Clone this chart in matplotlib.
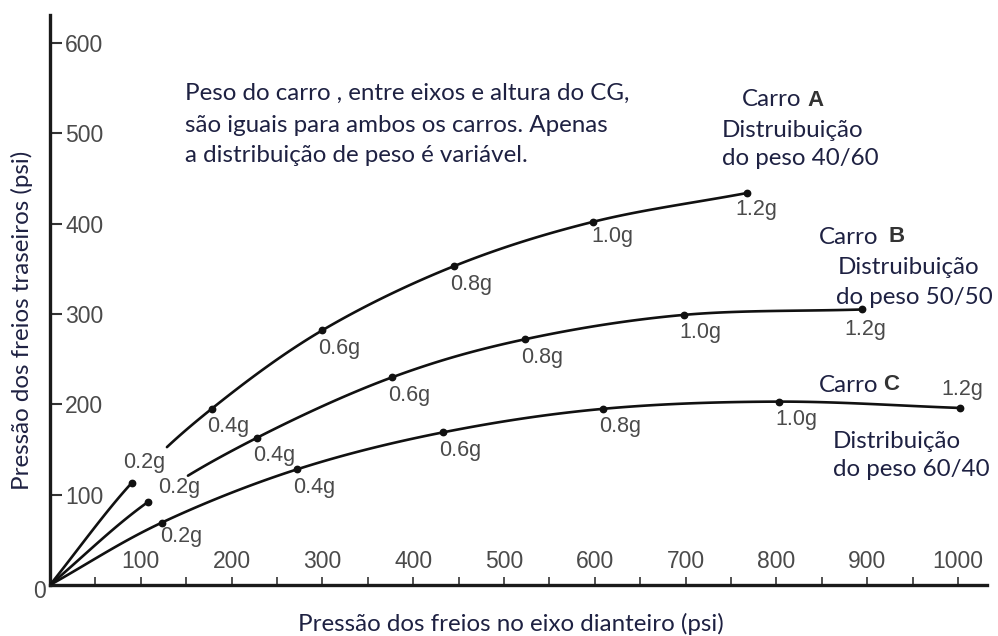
import numpy as np
import matplotlib
matplotlib.use("Agg")
import matplotlib.pyplot as plt
from matplotlib.ticker import FixedLocator

# ---- data -------------------------------------------------------------
g_labels = ["0.2g", "0.4g", "0.6g", "0.8g", "1.0g", "1.2g"]

front_a = [90, 178, 300, 445, 598, 768]
rear_a = [113, 195, 282, 353, 402, 434]

front_b = [108, 228, 377, 523, 698, 894]
rear_b = [92, 163, 230, 272, 299, 305]

front_c = [123, 272, 433, 609, 803, 1002]
rear_c = [69, 128, 169, 195, 203, 196]

x_ticks = [100, 200, 300, 400, 500, 600, 700, 800, 900, 1000]
x_minor = [50, 150, 250, 350, 450, 550, 650, 750, 850, 950]
y_ticks = [100, 200, 300, 400, 500, 600]

# ---- styling ----------------------------------------------------------
W, H = 998, 636
TXT = "#1e2142"
GREY = "#4a4a4a"
HUMANIST = ["Lato", "DejaVu Sans"]
GROTESK = ["Liberation Sans", "DejaVu Sans"]
TSIZE = 17.4
TICKSIZE = 16.5

fig = plt.figure(figsize=(W / 100, H / 100), dpi=100)
fig.patch.set_facecolor("white")

# axes box in pixel terms: origin at (50, 585), top at 15, right end at 987
ax_l, ax_b, ax_r, ax_t = 50, 585, 987, 15
ax = fig.add_axes([ax_l / W, 1 - ax_b / H, (ax_r - ax_l) / W, (ax_b - ax_t) / H])
ax.set_xlim(0, 1032)
ax.set_ylim(0, 631)

for side in ("top", "right"):
    ax.spines[side].set_visible(False)
for side in ("left", "bottom"):
    ax.spines[side].set_linewidth(2.4)
    ax.spines[side].set_color("#1a1a1a")

ax.xaxis.set_major_locator(FixedLocator(x_ticks))
ax.xaxis.set_minor_locator(FixedLocator(x_minor))
ax.set_xticklabels([str(v) for v in x_ticks])
ax.yaxis.set_major_locator(FixedLocator(y_ticks))
ax.set_yticklabels([str(v) for v in y_ticks])

ax.tick_params(axis="x", which="both", direction="in", length=5.5, width=1.2,
               color="#333333")
ax.tick_params(axis="x", which="major", pad=-25, labelsize=TICKSIZE,
               labelcolor=GREY)
ax.tick_params(axis="y", direction="in", length=8.5, width=1.5,
               color="#333333", pad=-11, labelsize=TICKSIZE, labelcolor=GREY)
for lbl in ax.get_xticklabels() + ax.get_yticklabels():
    lbl.set_fontfamily(GROTESK)
for lbl in ax.get_yticklabels():
    lbl.set_horizontalalignment("left")


def smooth_path(xs, ys, n=40):
    """Catmull-Rom curve through the given points; returns per-segment samples."""
    p = np.column_stack([xs, ys]).astype(float)
    ext = np.vstack([p[0] - (p[1] - p[0]), p, p[-1] + (p[-1] - p[-2])])
    segs = []
    t = np.linspace(0, 1, n)[:, None]
    for i in range(1, len(ext) - 2):
        p0, p1, p2, p3 = ext[i - 1], ext[i], ext[i + 1], ext[i + 2]
        pts = 0.5 * ((2 * p1) + (-p0 + p2) * t
                     + (2 * p0 - 5 * p1 + 4 * p2 - p3) * t ** 2
                     + (-p0 + 3 * p1 - 3 * p2 + p3) * t ** 3)
        segs.append((t[:, 0], pts))
    return segs


def draw_car(fx, fy, gap_end, offsets):
    xs = [0] + list(fx)
    ys = [0] + list(fy)
    segs = smooth_path(xs, ys)
    for k, (t, pts) in enumerate(segs):
        if k == 1 and gap_end > 0:
            keep = t >= gap_end
            pts = pts[keep]
        ax.plot(pts[:, 0], pts[:, 1], color="#111111", lw=1.9,
                solid_capstyle="round", zorder=3)
    ax.plot(fx, fy, "o", color="#111111", ms=4.6, zorder=4)
    for x, y, lab, (dx, dy) in zip(fx, fy, g_labels, offsets):
        ax.annotate(lab, (x, y), xytext=(dx, dy), textcoords="offset pixels",
                    ha="left", va="center", fontsize=15.5, color=GREY,
                    family=GROTESK, zorder=5)


below = (-4, -18)
draw_car(front_a, rear_a, 0.44,
         [(-9, 20), below, below, below, (-2, -15), (-12, -17)])
draw_car(front_b, rear_b, 0.37,
         [(10, 14), below, below, below, below, (-17, -20)])
draw_car(front_c, rear_c, 0.0,
         [(-2, -14), below, below, below, below, (-18, 18)])


def ftext(px, py, s, **kw):
    kw.setdefault("fontsize", TSIZE)
    kw.setdefault("color", TXT)
    kw.setdefault("family", HUMANIST)
    kw.setdefault("va", "center")
    fig.text(px / W, 1 - py / H, s, **kw)


# origin label
ftext(40, 591, "0", family=GROTESK, color=GREY, fontsize=TICKSIZE, ha="center")

# axis titles
ftext(511, 624, "Pressão dos freios no eixo dianteiro (psi)", ha="center")
ftext(22, 320, "Pressão dos freios traseiros (psi)", ha="center",
      rotation=90, rotation_mode="anchor")

# note
ftext(185, 93, "Peso do carro , entre eixos e altura do CG,", ha="left")
ftext(185, 125, "são iguais para ambos os carros. Apenas", ha="left")
ftext(185, 155, "a distribuição de peso é variável.", ha="left")

# car captions
bold = dict(family=GROTESK, fontweight="bold", color="#333333", fontsize=16)
ftext(801, 100, "Carro", ha="right")
ftext(807, 100, "A", ha="left", **bold)
ftext(722, 130, "Distruibuição", ha="left")
ftext(722, 158, "do peso 40/60", ha="left")

ftext(878, 237, "Carro", ha="right")
ftext(888, 237, "B", ha="left", **bold)
ftext(838, 268, "Distruibuição", ha="left")
ftext(836, 297, "do peso 50/50", ha="left")

ftext(878, 385, "Carro", ha="right")
ftext(883, 385, "C", ha="left", **bold)
ftext(833, 442, "Distribuição", ha="left")
ftext(833, 470, "do peso 60/40", ha="left")

fig.savefig("out.png", dpi=100, facecolor="white")
